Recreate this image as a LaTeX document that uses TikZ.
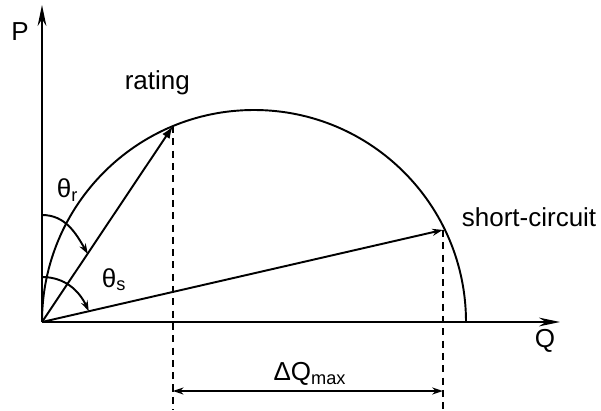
\documentclass[tikz,border=0pt]{standalone}
\usepackage{fontspec}
\setmainfont{Liberation Sans}
\usetikzlibrary{calc,arrows.meta}

\begin{document}
\begin{tikzpicture}[line width=1.1pt,
    font=\fontsize{14.8}{17}\selectfont]

    % fixed frame of the picture
    \useasboundingbox (-0.84,-1.76) rectangle (11.18,6.44);

    % radius of the capability circle (it passes through the origin)
    \def\r{4.24}

    \coordinate (O) at (0,0);
    \coordinate (M) at (\r,0);
    \coordinate (E) at ({2*\r},0);

    % operating points on the circle
    \coordinate (R) at ($(M)+(112.5:\r)$);
    \coordinate (S) at ($(M)+(26:4.2)$);

    % axes
    \coordinate (Ptop) at (0,6.34);
    \coordinate (Qend) at (10.36,0);
    \draw[-{Stealth[length=12pt,width=5pt]}] (O) -- (Ptop);
    \draw[-{Stealth[length=12pt,width=5pt]}] (O) -- (Qend);
    \node (lP) at (-0.44,5.8) {P};
    \node (lQ) at (10.06,-0.38) {Q};

    % half circle
    \draw (E) arc (0:180:\r);

    % phasors to rating and short-circuit
    \draw[-{Latex[length=7pt,width=5pt]}] (O) -- (R);
    \draw[-{Stealth[length=6pt,width=4pt,open]}] (O) -- (S);
    \node[anchor=base west] (lR) at (1.52,4.64) {rating};
    \node[anchor=base west] (lS) at (8.26,1.9) {short-circuit};

    % angles
    \coordinate (r1) at (0,2.14);
    \coordinate (r2) at (56:1.64);
    \coordinate (s1) at (0,0.9);
    \coordinate (s2) at (13:0.96);
    \draw[-{Stealth[length=6pt,width=4pt]}] (r1) to[out=0,in=120] (r2);
    \draw[-{Stealth[length=6pt,width=4pt]}] (s1) to[out=0,in=115] (s2);
    \node[anchor=base west] (lr) at (0.16,2.48) {θ\textsubscript{r}};
    \node[anchor=base west] (ls) at (1.06,0.7) {θ\textsubscript{s}};

    % projections down to the dimension line
    \coordinate (Rb) at (R |- 0,-1.76);
    \coordinate (Sb) at (S |- 0,-1.76);
    \draw[dashed,dash pattern=on 4pt off 3pt] (R) -- (Rb);
    \draw[dashed,dash pattern=on 4pt off 3pt] (S) -- (Sb);

    % Delta Q max
    \coordinate (Rd) at (R |- 0,-1.38);
    \coordinate (Sd) at (S |- 0,-1.38);
    \draw[{Stealth[length=6pt,width=4pt]}-{Stealth[length=6pt,width=4pt]}] (Rd) -- (Sd);
    \node (lD) at (5.36,-1.04) {ΔQ\textsubscript{max}};

\end{tikzpicture}
\end{document}
